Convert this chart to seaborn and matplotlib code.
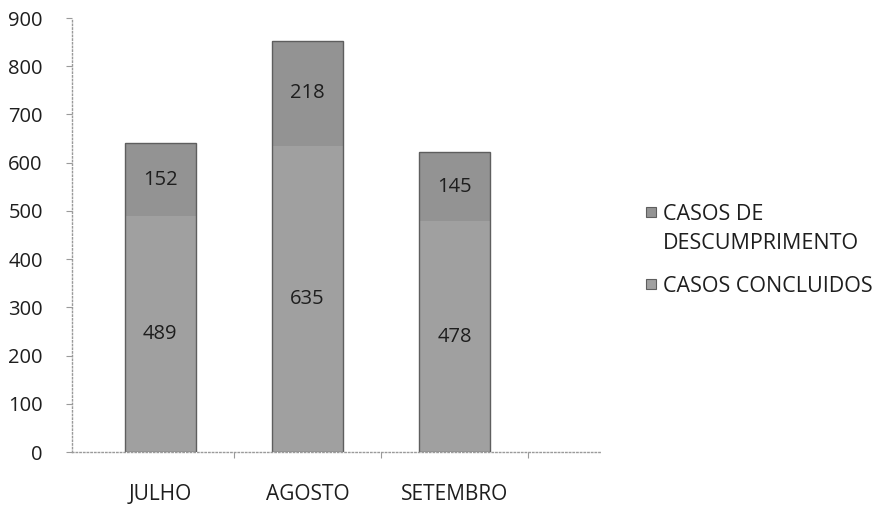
import matplotlib
matplotlib.use("Agg")
import matplotlib.pyplot as plt
from matplotlib.patches import Rectangle
import seaborn as sns
import pandas as pd

meses = ["JULHO", "AGOSTO", "SETEMBRO"]
casos_concluidos = [489, 635, 478]
casos_descumprimento = [152, 218, 145]
rotulos_y = [0, 100, 200, 300, 400, 500, 600, 700, 800, 900]
rotulos_legenda = ["CASOS DE\nDESCUMPRIMENTO", "CASOS CONCLUIDOS"]

df = pd.DataFrame({
    "mes": meses,
    "concluidos": casos_concluidos,
    "descumprimento": casos_descumprimento,
})
df["total"] = df["concluidos"] + df["descumprimento"]

sns.set_theme(style="white")
plt.rcParams["font.family"] = ["Open Sans", "DejaVu Sans"]

cor_desc = "#939393"
cor_conc = "#a0a0a0"
cor_borda = "#5e5e5e"
cor_texto = "#1e1e1e"

W, H = 877, 509
fig = plt.figure(figsize=(W / 100, H / 100), dpi=100)
ax = fig.add_axes([72 / W, 57 / H, (600 - 72) / W, (452 - 18) / H])

# stacked bars: total first (top segment), the lower segment over it,
# then an unfilled outline around the whole column
sns.barplot(data=df, x="mes", y="total", order=meses, color=cor_desc,
            width=0.48, saturation=1, ax=ax, linewidth=0)
sns.barplot(data=df, x="mes", y="concluidos", order=meses, color=cor_conc,
            width=0.48, saturation=1, ax=ax, linewidth=0)
sns.barplot(data=df, x="mes", y="total", order=meses, color=cor_borda,
            width=0.48, saturation=1, ax=ax, fill=False, linewidth=1.0)

for i, (c, d) in enumerate(zip(casos_concluidos, casos_descumprimento)):
    ax.text(i, c / 2, str(c), ha="center", va="center", fontsize=14.5, color=cor_texto)
    ax.text(i, c + d / 2, str(d), ha="center", va="center", fontsize=14.5, color=cor_texto)

ax.set_xlim(-0.6, 2.99)
ax.set_ylim(0, 900)
ax.set_yticks(rotulos_y)
ax.set_yticklabels([str(v) for v in rotulos_y])
ax.set_xlabel("")
ax.set_ylabel("")

for s in ["top", "right"]:
    ax.spines[s].set_visible(False)
for s in ["left", "bottom"]:
    ax.spines[s].set_color("#9a9a9a")
    ax.spines[s].set_linestyle(":")
    ax.spines[s].set_linewidth(1.0)

ax.tick_params(axis="y", which="major", left=True, length=4, width=0.8,
               color="#9a9a9a", labelsize=14.5, labelcolor=cor_texto, pad=17)
ax.tick_params(axis="x", which="major", bottom=False, labelsize=15,
               labelcolor=cor_texto, pad=17)
ax.set_xticks([0.5, 1.5, 2.5], minor=True)
ax.tick_params(axis="x", which="minor", bottom=True, length=4, width=0.8, color="#9a9a9a")

# legend: square key aligned with the first line of each label
entradas = [(cor_desc, 212), (cor_conc, 284)]
for (cor, y), texto in zip(entradas, rotulos_legenda):
    fig.patches.append(Rectangle((646 / W, 1 - (y + 5) / H), 10 / W, 10 / H,
                                 transform=fig.transFigure, facecolor=cor,
                                 edgecolor=cor_borda, linewidth=0.8))
    fig.text(663 / W, 1 - (y - 8) / H, texto, ha="left", va="top",
             fontsize=15.5, color=cor_texto, linespacing=1.5)

fig.savefig("out.png", dpi=100, facecolor="white")
